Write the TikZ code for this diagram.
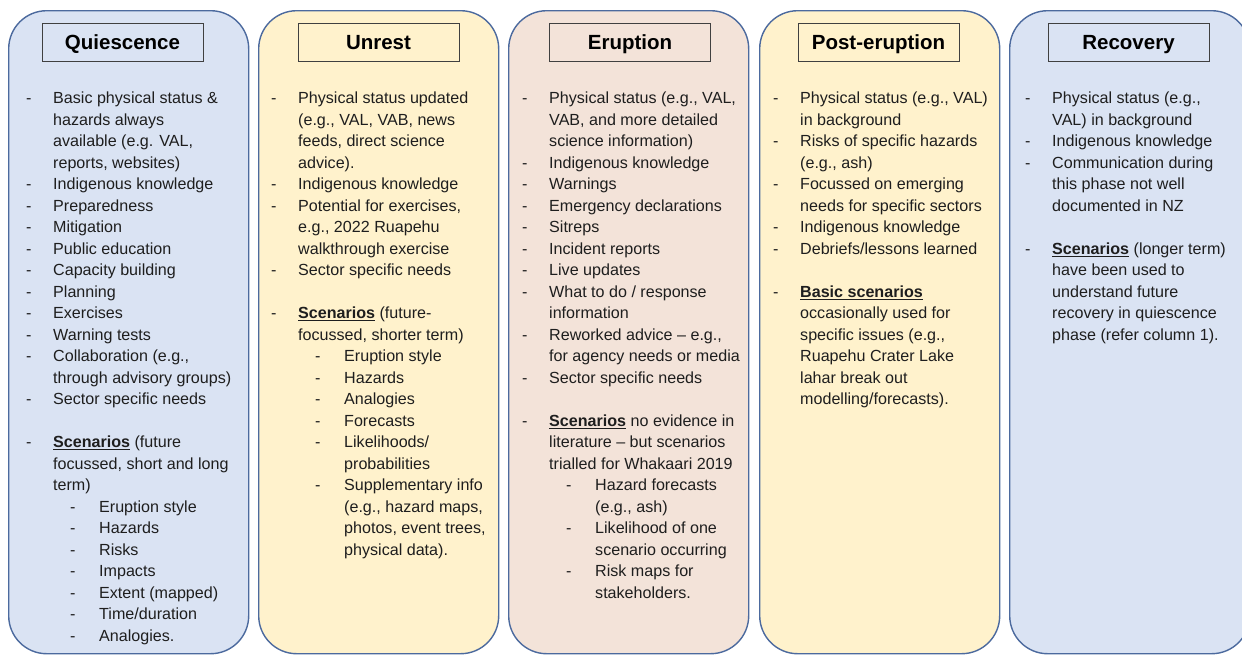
\documentclass[tikz,border=0pt]{standalone}
\usepackage{fontspec}
\setmainfont{Liberation Sans}
\definecolor{blueF}{HTML}{DAE3F3}
\definecolor{yelF}{HTML}{FFF2CC}
\definecolor{pinkF}{HTML}{F3E3D9}
\definecolor{colB}{HTML}{4C6A9E}
\definecolor{titB}{HTML}{404040}
\definecolor{txt}{HTML}{1E1E1E}
\newcommand\Dl[1]{\strut\makebox[27pt][l]{-}#1}
\newcommand\Cl[1]{\strut\hspace*{27pt}#1}
\newcommand\Sl[1]{\strut\hspace*{44pt}\makebox[29pt][l]{-}#1}
\newcommand\SCl[1]{\strut\hspace*{73pt}#1}
\newsavebox\ulbox
\newcommand\Ul[1]{\sbox\ulbox{\bfseries #1}\rlap{\rule[-2.6pt]{\wd\ulbox}{1.1pt}}\usebox\ulbox}
\tikzset{
  phase/.style={draw=colB, line width=1.4pt, rounded corners=38pt, minimum width=240pt, minimum height=643pt, inner sep=0pt, anchor=north west},
  titlebox/.style={draw=titB, line width=0.9pt, minimum width=161pt, minimum height=38pt, inner sep=0pt, text height=14.7pt, text depth=0pt, font=\fontsize{20.5}{24}\selectfont\bfseries, text=black},
  body/.style={anchor=north west, inner sep=0pt, align=left, text=txt, font=\fontsize{16.1}{21.5}\selectfont},
}
\begin{document}
\begin{tikzpicture}[x=1pt,y=-1pt]
\path[use as bounding box] (0,0) rectangle (1242,657);
\clip (0,0) rectangle (1242,657);
\fill[white] (0,0) rectangle (1242,657);
% columns
\node[phase, fill=blueF] (c1) at (8,10) {};
\node[phase, fill=yelF] (c2) at (258,10) {};
\node[phase, fill=pinkF] (c3) at (508,10) {};
\node[phase, fill=yelF] (c4) at (759,10) {};
\node[phase, fill=blueF] (c5) at (1009,10) {};
% titles
\node[titlebox, fill=blueF] (t1) at (122.5,42) {Quiescence};
\node[titlebox, fill=yelF] (t2) at (378.5,42) {Unrest};
\node[titlebox, fill=pinkF] (t3) at (630,42) {Eruption};
\node[titlebox, fill=yelF] (t4) at (878.5,42) {Post-eruption};
\node[titlebox, fill=blueF] (t5) at (1128.5,42) {Recovery};
% bodies
\node[body] (b1) at (26,88.5) {%
\Dl{Basic physical status \&}\\
\Cl{hazards always}\\
\Cl{available (e.g. VAL,}\\
\Cl{reports, websites)}\\
\Dl{Indigenous knowledge}\\
\Dl{Preparedness}\\
\Dl{Mitigation}\\
\Dl{Public education}\\
\Dl{Capacity building}\\
\Dl{Planning}\\
\Dl{Exercises}\\
\Dl{Warning tests}\\
\Dl{Collaboration (e.g.,}\\
\Cl{through advisory groups)}\\
\Dl{Sector specific needs}\\
\Cl{}\\
\Dl{\Ul{Scenarios} (future}\\
\Cl{focussed, short and long}\\
\Cl{term)}\\
\Sl{Eruption style}\\
\Sl{Hazards}\\
\Sl{Risks}\\
\Sl{Impacts}\\
\Sl{Extent (mapped)}\\
\Sl{Time/duration}\\
\Sl{Analogies.}};
\node[body] (b2) at (271,88.5) {%
\Dl{Physical status updated}\\
\Cl{(e.g., VAL, VAB, news}\\
\Cl{feeds, direct science}\\
\Cl{advice).}\\
\Dl{Indigenous knowledge}\\
\Dl{Potential for exercises,}\\
\Cl{e.g., 2022 Ruapehu}\\
\Cl{walkthrough exercise}\\
\Dl{Sector specific needs}\\
\Cl{}\\
\Dl{\Ul{Scenarios} (future-}\\
\Cl{focussed, shorter term)}\\
\Sl{Eruption style}\\
\Sl{Hazards}\\
\Sl{Analogies}\\
\Sl{Forecasts}\\
\Sl{Likelihoods/}\\
\SCl{probabilities}\\
\Sl{Supplementary info}\\
\SCl{(e.g., hazard maps,}\\
\SCl{photos, event trees,}\\
\SCl{physical data).}};
\node[body] (b3) at (522,88.5) {%
\Dl{Physical status (e.g., VAL,}\\
\Cl{VAB, and more detailed}\\
\Cl{science information)}\\
\Dl{Indigenous knowledge}\\
\Dl{Warnings}\\
\Dl{Emergency declarations}\\
\Dl{Sitreps}\\
\Dl{Incident reports}\\
\Dl{Live updates}\\
\Dl{What to do / response}\\
\Cl{information}\\
\Dl{Reworked advice \textendash{} e.g.,}\\
\Cl{for agency needs or media}\\
\Dl{Sector specific needs}\\
\Cl{}\\
\Dl{\Ul{Scenarios} no evidence in}\\
\Cl{literature \textendash{} but scenarios}\\
\Cl{trialled for Whakaari 2019}\\
\Sl{Hazard forecasts}\\
\SCl{(e.g., ash)}\\
\Sl{Likelihood of one}\\
\SCl{scenario occurring}\\
\Sl{Risk maps for}\\
\SCl{stakeholders.}};
\node[body] (b4) at (773,88.5) {%
\Dl{Physical status (e.g., VAL)}\\
\Cl{in background}\\
\Dl{Risks of specific hazards}\\
\Cl{(e.g., ash)}\\
\Dl{Focussed on emerging}\\
\Cl{needs for specific sectors}\\
\Dl{Indigenous knowledge}\\
\Dl{Debriefs/lessons learned}\\
\Cl{}\\
\Dl{\Ul{Basic scenarios}}\\
\Cl{occasionally used for}\\
\Cl{specific issues (e.g.,}\\
\Cl{Ruapehu Crater Lake}\\
\Cl{lahar break out}\\
\Cl{modelling/forecasts).}};
\node[body] (b5) at (1025,88.5) {%
\Dl{Physical status (e.g.,}\\
\Cl{VAL) in background}\\
\Dl{Indigenous knowledge}\\
\Dl{Communication during}\\
\Cl{this phase not well}\\
\Cl{documented in NZ}\\
\Cl{}\\
\Dl{\Ul{Scenarios} (longer term)}\\
\Cl{have been used to}\\
\Cl{understand future}\\
\Cl{recovery in quiescence}\\
\Cl{phase (refer column 1).}};
\end{tikzpicture}
\end{document}
